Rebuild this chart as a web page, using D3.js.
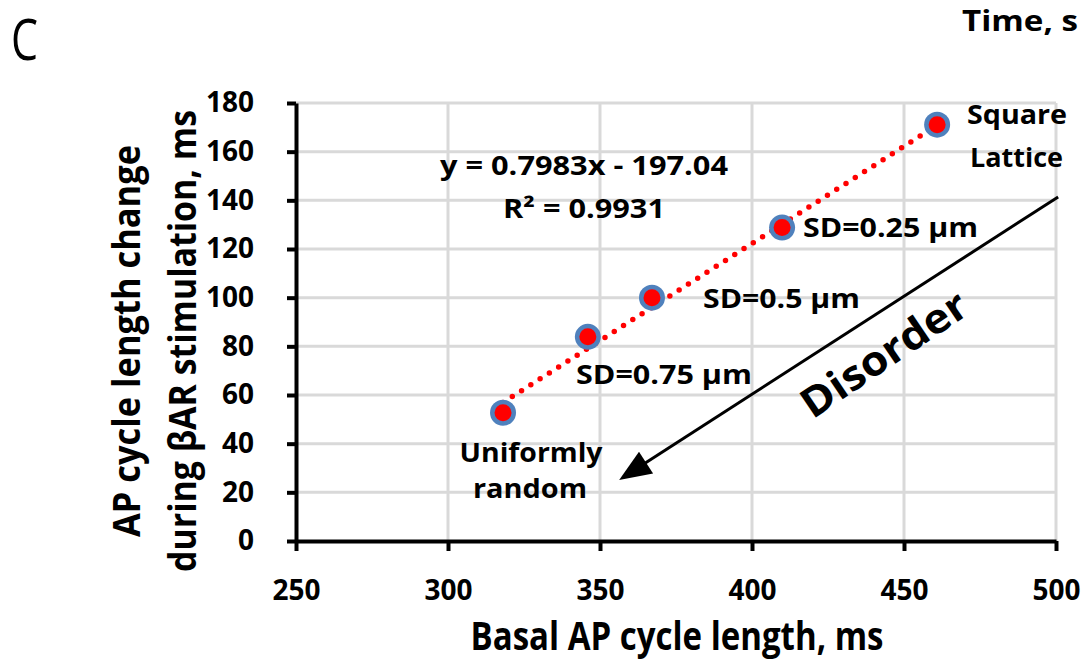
<!DOCTYPE html>
<html>
<head>
<meta charset="utf-8">
<script src="https://cdn.jsdelivr.net/npm/d3@7"></script>
<style>
  body { margin: 0; background: #fff; }
  svg { display: block; font-family: "Open Sans", Lato, sans-serif; }
</style>
</head>
<body>
<svg id="chart" width="1086" height="662"></svg>
<script>
// basal AP cycle length vs change during bAR stimulation
const basalCL = [318.1, 346.0, 367.1, 409.9, 460.9];
const clChange = [52.7, 83.9, 100.0, 128.8, 171.1];
const pointNames = ["Uniformly random", "SD=0.75 µm", "SD=0.5 µm", "SD=0.25 µm", "Square Lattice"];
const xTicks = [250, 300, 350, 400, 450, 500];
const yTicks = [0, 20, 40, 60, 80, 100, 120, 140, 160, 180];
const trendSlope = 0.7983, trendIntercept = -197.04, trendR2 = 0.9931;
// disorder arrow, in data units (tail -> head)
const arrowFrom = [500.7, 141.4];
const arrowTo = [356.3, 25.1];

const svg = d3.select("#chart");

const x = d3.scaleLinear().domain([250, 500]).range([296, 1056]);
const y = d3.scaleLinear().domain([0, 180]).range([541, 103]);

// gridlines
svg.append("g").selectAll("line")
    .data(yTicks.slice(1))
    .enter().append("line")
    .attr("x1", x(250)).attr("x2", x(500))
    .attr("y1", d => y(d)).attr("y2", d => y(d))
    .attr("stroke", "#d9d9d9").attr("stroke-width", 3);
svg.append("g").selectAll("line")
    .data(xTicks.slice(1))
    .enter().append("line")
    .attr("x1", d => x(d)).attr("x2", d => x(d))
    .attr("y1", y(0)).attr("y2", y(180))
    .attr("stroke", "#d9d9d9").attr("stroke-width", 3);

// axes
const yAxis = svg.append("g")
    .attr("transform", "translate(" + x(250) + ",0)")
    .call(d3.axisLeft(y).tickValues(yTicks).tickSize(9).tickSizeOuter(0).tickPadding(33));
const xAxis = svg.append("g")
    .attr("transform", "translate(0," + y(0) + ")")
    .call(d3.axisBottom(x).tickValues(xTicks).tickSize(10).tickSizeOuter(0).tickPadding(32));
[yAxis, xAxis].forEach(a => {
    a.attr("font-family", null).attr("font-size", null);
    a.select(".domain").attr("stroke", "#000").attr("stroke-width", 4);
    a.selectAll(".tick line").attr("stroke", "#000").attr("stroke-width", 4);
    a.selectAll(".tick text")
        .attr("fill", "#000")
        .style("font-size", "28px")
        .style("font-weight", "bold");
});
xAxis.selectAll(".tick text").attr("dy", "0.6em");

// trendline
const trendLine = d3.line()
    .x(d => x(d))
    .y(d => y(trendSlope * d + trendIntercept));
svg.append("path")
    .datum([d3.min(basalCL), d3.max(basalCL)])
    .attr("d", trendLine)
    .attr("fill", "none")
    .attr("stroke", "#ff0000")
    .attr("stroke-width", 5.5)
    .attr("stroke-linecap", "round")
    .attr("stroke-dasharray", "0 11");

// markers
const pts = basalCL.map((v, i) => ({x: v, y: clChange[i], name: pointNames[i]}));
svg.append("g").selectAll("circle")
    .data(pts)
    .enter().append("circle")
    .attr("cx", d => x(d.x)).attr("cy", d => y(d.y))
    .attr("r", 13)
    .attr("fill", "#4f81bd");
svg.append("g").selectAll("circle")
    .data(pts)
    .enter().append("circle")
    .attr("cx", d => x(d.x)).attr("cy", d => y(d.y))
    .attr("r", 8.5)
    .attr("fill", "#ff0000");

// text helper, squeezed to the width it has in the figure
function label(txt, px, py, size, width, anchor, weight) {
    const t = svg.append("text")
        .attr("x", px).attr("y", py)
        .attr("text-anchor", anchor || "start")
        .style("font-size", size + "px")
        .style("font-weight", weight || "bold")
        .text(txt);
    if (width) t.attr("textLength", width).attr("lengthAdjust", "spacingAndGlyphs");
    return t;
}
label("y = " + trendSlope + "x - " + Math.abs(trendIntercept), 584, 175, 26, 288, "middle");
label("R² = " + trendR2, 584, 218, 26, 162, "middle");

label("Square", 967, 124, 27, 100);
label("Lattice", 970, 167, 27, 93);
label(pointNames[3], 803, 237, 27, 175);
label(pointNames[2], 703, 308, 27, 157);
label(pointNames[1], 576, 384, 27, 176);
label("Uniformly", 531, 462, 27, 143, "middle");
label("random", 530, 498, 27, 114, "middle");

// disorder arrow
const ax1 = x(arrowFrom[0]), ay1 = y(arrowFrom[1]);
const ax2 = x(arrowTo[0]), ay2 = y(arrowTo[1]);
const ang = Math.atan2(ay2 - ay1, ax2 - ax1);
const headLen = 32, headW = 13;
svg.append("line")
    .attr("x1", ax1).attr("y1", ay1)
    .attr("x2", ax2 - Math.cos(ang) * headLen * 0.8)
    .attr("y2", ay2 - Math.sin(ang) * headLen * 0.8)
    .attr("stroke", "#000").attr("stroke-width", 3);
const bx = ax2 - Math.cos(ang) * headLen, by = ay2 - Math.sin(ang) * headLen;
svg.append("path")
    .attr("d", "M" + ax2 + "," + ay2 +
        "L" + (bx + Math.sin(ang) * headW) + "," + (by - Math.cos(ang) * headW) +
        "L" + (bx - Math.sin(ang) * headW) + "," + (by + Math.cos(ang) * headW) + "Z")
    .attr("fill", "#000");

svg.append("text")
    .attr("transform", "translate(892,366) rotate(-34)")
    .attr("text-anchor", "middle")
    .attr("textLength", 192).attr("lengthAdjust", "spacingAndGlyphs")
    .style("font-size", "41px")
    .style("font-weight", "bold")
    .text("Disorder");

// axis titles
label("Basal AP cycle length, ms", 677, 650, 39, 413, "middle");
svg.append("text")
    .attr("transform", "translate(140,341) rotate(-90)")
    .attr("text-anchor", "middle")
    .attr("textLength", 392).attr("lengthAdjust", "spacingAndGlyphs")
    .style("font-size", "37px")
    .style("font-weight", "bold")
    .text("AP cycle length change");
svg.append("text")
    .attr("transform", "translate(196,341) rotate(-90)")
    .attr("text-anchor", "middle")
    .attr("textLength", 462).attr("lengthAdjust", "spacingAndGlyphs")
    .style("font-size", "37px")
    .style("font-weight", "bold")
    .text("during βAR stimulation, ms");

// panel letter and cropped neighbour title
label("C", 11, 60, 57, 27, "start", "normal");
label("Time, s", 962, 31, 29, 116);
</script>
</body>
</html>
